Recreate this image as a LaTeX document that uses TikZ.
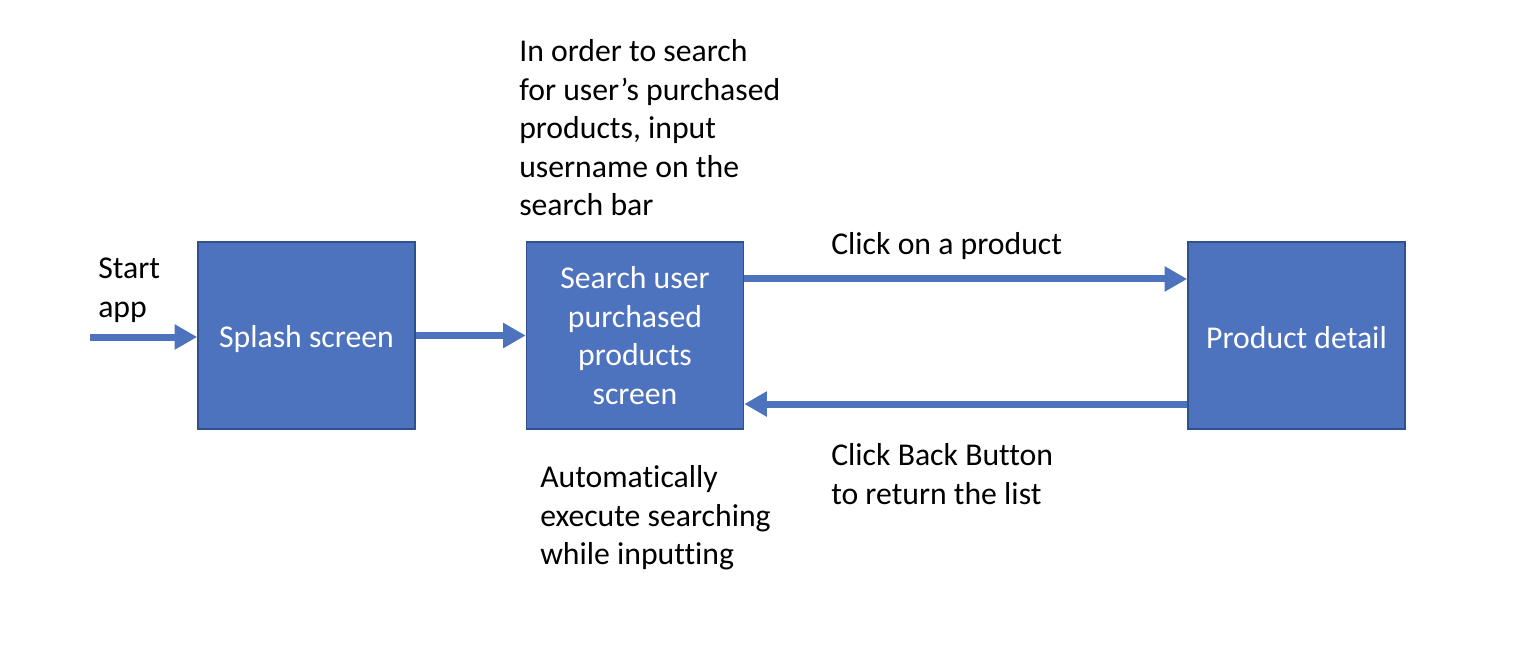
\documentclass[tikz,border=0pt]{standalone}
\usepackage{fontspec}
\setmainfont[Ligatures=NoCommon]{Carlito}
\usetikzlibrary{arrows.meta}
\definecolor{boxfill}{HTML}{4E73BE}
\definecolor{boxline}{HTML}{2F528F}
\tikzset{
  stepbox/.style={draw=boxline, line width=1.2pt, fill=boxfill, text=white,
    minimum width=162.75pt, minimum height=140.25pt, inner sep=0pt,
    align=center, font=\fontsize{23.8}{28.9}\selectfont},
  lbl/.style={anchor=west, inner sep=0pt, align=left, font=\fontsize{23.8}{28.9}\selectfont},
  flow/.style={draw=boxfill, line width=5.25pt, -{Triangle[length=17pt, width=18pt]}}
}
\begin{document}
\begin{tikzpicture}[x=0.75pt, y=-0.75pt]
\useasboundingbox (0,0) rectangle (1528,664);
\node[stepbox] (splash) at (306.5,335.5) {\raisebox{-3pt}[\height][\depth]{Splash screen}};
\node[stepbox] (search) at (635,335.5) {Search user\\purchased\\products\\screen};
\node[stepbox] (prod) at (1296.5,335.5) {\raisebox{-1.5pt}[\height][\depth]{Product detail}};
\coordinate (start) at (90,337);
\node[lbl] (startlbl) at (98,290) {Start\\app};
\node[lbl] (toplbl) at (519,128) {In order to search\\for user’s purchased\\products, input\\username on the\\search bar};
\node[lbl] (clicklbl) at (831,246) {Click on a product};
\node[lbl] (backlbl) at (831,474) {Click Back Button\\to return the list};
\node[lbl] (autolbl) at (540,518) {Automatically\\execute searching\\while inputting};
\draw[flow] (start) -- (start -| splash.west);
\draw[flow] (splash.east) -- (search.west);
\draw[flow] ([yshift=42.4pt]search.east) -- ([yshift=42.4pt]prod.west);
\draw[flow] ([yshift=-51.4pt]prod.west) -- ([yshift=-51.4pt]search.east);
\end{tikzpicture}
\end{document}
